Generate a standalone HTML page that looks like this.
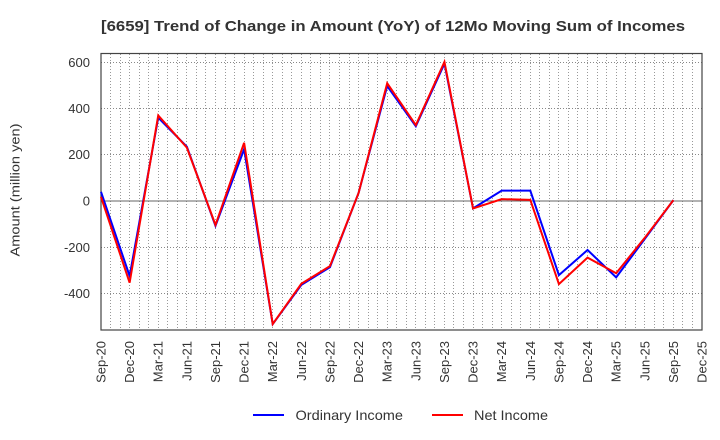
<!DOCTYPE html>
<html>
<head>
<meta charset="utf-8">
<style>
html,body{margin:0;padding:0;background:#fff;}
svg{display:block;font-family:"Liberation Sans",Arial,sans-serif;}
</style>
</head>
<body>
<svg width="720" height="440" viewBox="0 0 720 440" xmlns="http://www.w3.org/2000/svg">
<rect width="720" height="440" fill="#fff"/>
<text x="101" y="31" font-size="15" font-weight="bold" fill="#333" textLength="584" lengthAdjust="spacingAndGlyphs">[6659]  Trend of Change in Amount (YoY) of 12Mo Moving Sum of Incomes</text>

<!-- vertical monthly gridlines -->
<path fill="none" stroke="#999" stroke-width="1" stroke-dasharray="1,2" d="
M110.5 54V330 M120.5 54V330 M129.5 54V330 M139.5 54V330 M148.5 54V330 M158.5 54V330 M167.5 54V330 M177.5 54V330 M186.5 54V330 M196.5 54V330
M205.5 54V330 M215.5 54V330 M225.5 54V330 M234.5 54V330 M244.5 54V330 M253.5 54V330 M263.5 54V330 M272.5 54V330 M282.5 54V330 M291.5 54V330
M301.5 54V330 M310.5 54V330 M320.5 54V330 M329.5 54V330 M339.5 54V330 M349.5 54V330 M358.5 54V330 M368.5 54V330 M377.5 54V330 M387.5 54V330
M396.5 54V330 M406.5 54V330 M415.5 54V330 M425.5 54V330 M434.5 54V330 M444.5 54V330 M453.5 54V330 M463.5 54V330 M473.5 54V330 M482.5 54V330
M492.5 54V330 M501.5 54V330 M511.5 54V330 M520.5 54V330 M530.5 54V330 M539.5 54V330 M549.5 54V330 M558.5 54V330 M568.5 54V330 M577.5 54V330
M587.5 54V330 M597.5 54V330 M606.5 54V330 M616.5 54V330 M625.5 54V330 M635.5 54V330 M644.5 54V330 M654.5 54V330 M663.5 54V330 M673.5 54V330
M682.5 54V330 M692.5 54V330"/>
<!-- horizontal gridlines -->
<path fill="none" stroke="#888" stroke-width="1" stroke-dasharray="1,2" d="M101 62.5H702 M101 108.5H702 M101 154.5H702 M101 247.5H702 M101 293.5H702"/>
<!-- zero line -->
<line x1="101" y1="201" x2="702" y2="201" stroke="#666" stroke-width="1"/>
<!-- plot frame -->
<rect x="101" y="53.5" width="601" height="276.5" fill="none" stroke="#444" stroke-width="1.2"/>

<!-- y tick labels -->
<g font-size="13" fill="#333" text-anchor="end">
<text x="90" y="67">600</text>
<text x="90" y="113">400</text>
<text x="90" y="159">200</text>
<text x="90" y="205.5">0</text>
<text x="90" y="252">-200</text>
<text x="90" y="298">-400</text>
</g>
<text transform="translate(19.5,190) rotate(-90)" font-size="13" fill="#333" text-anchor="middle" textLength="133" lengthAdjust="spacingAndGlyphs">Amount (million yen)</text>

<!-- x tick labels -->
<g font-size="13" fill="#333" text-anchor="end">
<text transform="translate(105.5,341) rotate(-90)">Sep-20</text>
<text transform="translate(134.1,341) rotate(-90)">Dec-20</text>
<text transform="translate(162.7,341) rotate(-90)">Mar-21</text>
<text transform="translate(191.4,341) rotate(-90)">Jun-21</text>
<text transform="translate(220,341) rotate(-90)">Sep-21</text>
<text transform="translate(248.6,341) rotate(-90)">Dec-21</text>
<text transform="translate(277.2,341) rotate(-90)">Mar-22</text>
<text transform="translate(305.8,341) rotate(-90)">Jun-22</text>
<text transform="translate(334.5,341) rotate(-90)">Sep-22</text>
<text transform="translate(363.1,341) rotate(-90)">Dec-22</text>
<text transform="translate(391.7,341) rotate(-90)">Mar-23</text>
<text transform="translate(420.3,341) rotate(-90)">Jun-23</text>
<text transform="translate(448.9,341) rotate(-90)">Sep-23</text>
<text transform="translate(477.6,341) rotate(-90)">Dec-23</text>
<text transform="translate(506.2,341) rotate(-90)">Mar-24</text>
<text transform="translate(534.8,341) rotate(-90)">Jun-24</text>
<text transform="translate(563.4,341) rotate(-90)">Sep-24</text>
<text transform="translate(592,341) rotate(-90)">Dec-24</text>
<text transform="translate(620.7,341) rotate(-90)">Mar-25</text>
<text transform="translate(649.3,341) rotate(-90)">Jun-25</text>
<text transform="translate(677.9,341) rotate(-90)">Sep-25</text>
<text transform="translate(706.5,341) rotate(-90)">Dec-25</text>
</g>

<!-- series -->
<polyline fill="none" stroke="#0000ff" stroke-width="2" stroke-linejoin="miter" points="
101,191.8 129.62,276 158.24,117.7 186.86,146.7 215.48,225.8 244.1,149.25 272.72,324.05 301.34,284.95 329.96,267.2 358.58,192.95
387.2,86 415.82,126.25 444.44,63.7 473.06,208.4 501.68,190.65 530.3,190.65 558.92,275.1 587.54,250 616.16,277.4 644.78,238.95 673.4,200.1"/>
<polyline fill="none" stroke="#ff0000" stroke-width="2" stroke-linejoin="miter" points="
101,196.9 129.62,282.65 158.24,115.45 186.86,147.6 215.48,224.9 244.1,142.8 272.72,324.05 301.34,283.8 329.96,266.1 358.58,192.95
387.2,83.25 415.82,125.1 444.44,61.85 473.06,208.4 501.68,199.15 530.3,199.85 558.92,284.05 587.54,257.6 616.16,273.2 644.78,237.8 673.4,200.1"/>

<!-- legend -->
<line x1="253" y1="415" x2="284" y2="415" stroke="#0000ff" stroke-width="2"/>
<text x="295.5" y="420" font-size="14" fill="#333" textLength="107.5" lengthAdjust="spacingAndGlyphs">Ordinary Income</text>
<line x1="432" y1="415" x2="463" y2="415" stroke="#ff0000" stroke-width="2"/>
<text x="474" y="420" font-size="14" fill="#333" textLength="74" lengthAdjust="spacingAndGlyphs">Net Income</text>
</svg>
</body>
</html>
